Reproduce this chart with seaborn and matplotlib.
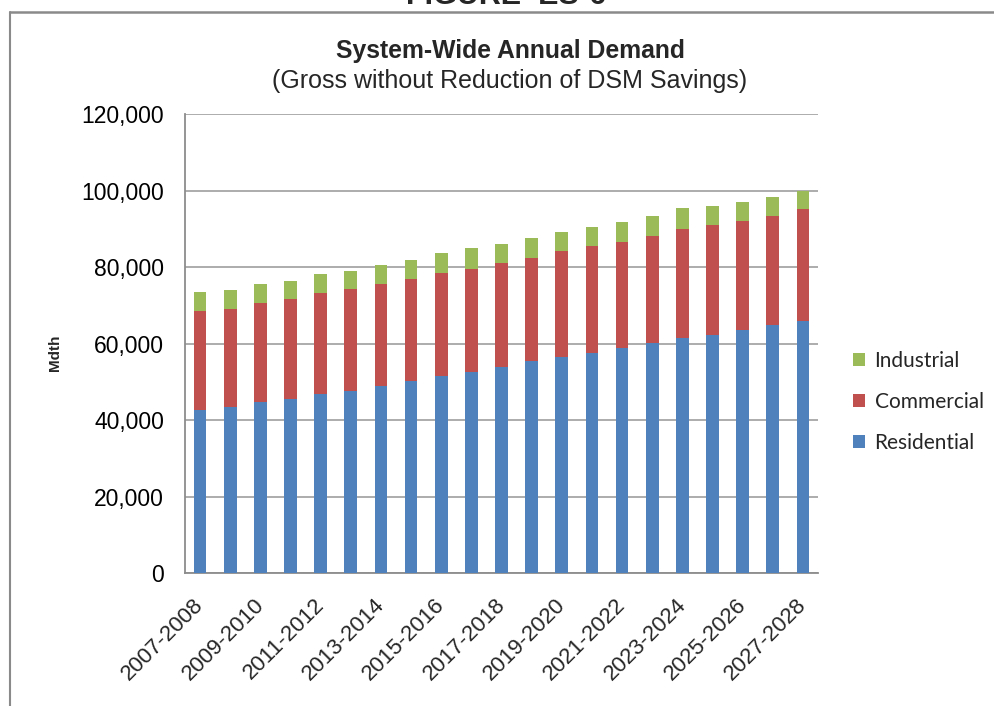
import matplotlib
matplotlib.use("Agg")
import matplotlib.pyplot as plt
from matplotlib.lines import Line2D
from matplotlib.patches import Patch
from matplotlib.transforms import ScaledTranslation
import seaborn as sns
import pandas as pd
import numpy as np

periods = ["2007-2008", "2008-2009", "2009-2010", "2010-2011", "2011-2012", "2012-2013",
           "2013-2014", "2014-2015", "2015-2016", "2016-2017", "2017-2018", "2018-2019",
           "2019-2020", "2020-2021", "2021-2022", "2022-2023", "2023-2024", "2024-2025",
           "2025-2026", "2026-2027", "2027-2028"]
residential = [42.7, 43.5, 44.8, 45.4, 46.8, 47.7, 48.8, 50.1, 51.5, 52.7, 53.9,
               55.4, 56.5, 57.6, 58.9, 60.1, 61.5, 62.3, 63.6, 64.8, 65.8]
commercial = [25.8, 25.6, 25.8, 26.3, 26.4, 26.6, 26.8, 26.7, 26.9, 26.9, 27.1,
              27.1, 27.8, 27.9, 27.8, 28.1, 28.4, 28.7, 28.6, 28.6, 29.3]
industrial = [5.0, 5.0, 5.0, 4.7, 5.0, 4.7, 4.9, 5.2, 5.3, 5.3, 5.1,
              5.1, 5.0, 4.9, 5.2, 5.2, 5.5, 5.0, 4.9, 5.0, 4.9]
series_names = ["Industrial", "Commercial", "Residential"]
colors = {"Residential": "#4F81BD", "Commercial": "#C0504D", "Industrial": "#9BBB59"}

scale = 1000
df = pd.DataFrame({
    "period": periods,
    "Residential": np.array(residential) * scale,
    "Commercial": np.array(commercial) * scale,
    "Industrial": np.array(industrial) * scale,
})
df["res_com"] = df["Residential"] + df["Commercial"]
df["total"] = df["res_com"] + df["Industrial"]

sns.set_theme(style="white")
plt.rcParams["font.family"] = ["Liberation Sans", "DejaVu Sans"]

fig = plt.figure(figsize=(9.95, 7.06), dpi=100)
fig.patch.set_facecolor("white")
ax = fig.add_axes([185 / 995, 1 - 573 / 706, (818 - 185) / 995, (573 - 114.3) / 706])

bw = 0.42
sns.barplot(data=df, x="period", y="total", color=colors["Industrial"], width=bw,
            saturation=1, ax=ax, zorder=3, linewidth=0)
sns.barplot(data=df, x="period", y="res_com", color=colors["Commercial"], width=bw,
            saturation=1, ax=ax, zorder=4, linewidth=0)
sns.barplot(data=df, x="period", y="Residential", color=colors["Residential"], width=bw,
            saturation=1, ax=ax, zorder=5, linewidth=0)

ax.set_xlim(-0.5, len(periods) - 0.5)
ax.set_ylim(0, 120000)
ax.set_yticks(np.arange(0, 120001, 20000))
ax.yaxis.set_major_formatter(matplotlib.ticker.FuncFormatter(lambda v, p: f"{int(v):,}"))
ax.grid(axis="y", color="#a6a6a6", linewidth=1.3, zorder=0)
ax.set_axisbelow(True)
ax.tick_params(axis="y", length=0, pad=15, labelsize=16.5, colors="#000000")
ticks = list(range(0, len(periods), 2))
ax.set_xticks(ticks)
ax.set_xticklabels([periods[i] for i in ticks], rotation=45, ha="right",
                   rotation_mode="anchor", fontsize=16)
ax.tick_params(axis="x", length=0, pad=8)
shift = ScaledTranslation(-7 / 100, -10 / 100, fig.dpi_scale_trans)
for lab in ax.get_xticklabels():
    lab.set_transform(lab.get_transform() + shift)
ax.set_xlabel("")
ax.set_ylabel("")
for s in ["top", "right"]:
    ax.spines[s].set_visible(False)
for s in ["left", "bottom"]:
    ax.spines[s].set_color("#8c8c8c")
    ax.spines[s].set_linewidth(1.3)

fig.text(55 / 995, 1 - 353 / 706, "Mdth", rotation=90, fontsize=11, fontweight="bold",
         ha="center", va="center")

fig.text(510 / 995, 1 - 51 / 706, "System-Wide Annual Demand", fontsize=17.8,
         fontweight="bold", ha="center", va="center")
fig.text(510 / 995, 1 - 81 / 706, "(Gross without Reduction of DSM Savings)", fontsize=18,
         ha="center", va="center")
fig.text(506 / 995, 1 - 4 / 706, "FIGURE  ES-6", fontsize=22, fontweight="bold",
         ha="center", va="baseline")

# frame of the figure box
fig.add_artist(Line2D([9.5 / 995, 9.5 / 995], [0, 1 - 12 / 706], transform=fig.transFigure,
                      color="#8a8a8a", linewidth=1.5))
fig.add_artist(Line2D([9.5 / 995, 1], [1 - 12 / 706, 1 - 12 / 706], transform=fig.transFigure,
                      color="#8a8a8a", linewidth=1.8))

handles = [Patch(facecolor=colors[n], edgecolor="none") for n in series_names]
leg = fig.legend(handles, series_names, loc="center left",
                 bbox_to_anchor=(834 / 995, 1 - 402 / 706), frameon=False,
                 prop={"family": ["Lato", "DejaVu Sans"], "size": 15},
                 handlelength=0.6, handleheight=0.6, labelspacing=1.0, handletextpad=0.45)

fig.savefig("out.png", dpi=100)
